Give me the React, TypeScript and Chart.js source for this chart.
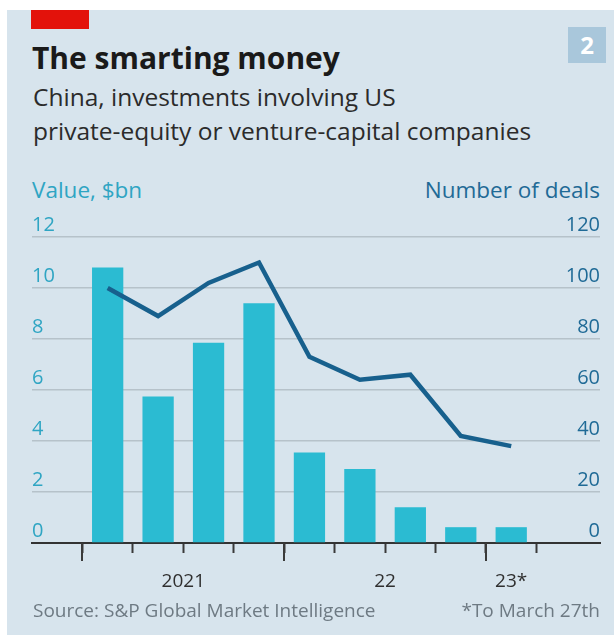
import React, { useEffect, useRef } from "react";
import { Chart, registerables } from "chart.js";

Chart.register(...registerables);

// ---- Data ----
const quarters = ["Q1 2021", "Q2 2021", "Q3 2021", "Q4 2021", "Q1 2022", "Q2 2022", "Q3 2022", "Q4 2022", "Q1 2023"];
const valueBn = [10.8, 5.75, 7.85, 9.4, 3.55, 2.9, 1.4, 0.62, 0.62];
const numberOfDeals = [100, 89, 102, 110, 73, 64, 66, 42, 38];
const yearLabels = ["2021", "22", "23*"];
const yearQuarterCounts = [4, 4, 1];
const valueTicks = [0, 2, 4, 6, 8, 10, 12];
const dealTicks = [0, 20, 40, 60, 80, 100, 120];

const FONT = "'Open Sans', 'Noto Sans', sans-serif";

// derived positions on the index axis
const yearBoundaries: number[] = [];
const yearCenters: number[] = [];
{
  let start = -0.5;
  yearQuarterCounts.forEach((c) => {
    yearBoundaries.push(start);
    yearCenters.push(start + c / 2);
    start += c;
  });
}
const quarterBoundaries = quarters.map((_, i) => i - 0.5).concat([quarters.length - 0.5]);

const X_MIN = -1.5;
const X_MAX = 9.76;

const longTicks = {
  id: "longTicks",
  afterDraw(chart: any) {
    const xs = chart.scales.x;
    const y0 = chart.chartArea.bottom;
    const ctx = chart.ctx;
    ctx.save();
    ctx.strokeStyle = "#3a3a3a";
    ctx.lineWidth = 2;
    yearBoundaries.forEach((b) => {
      const px = Math.round(xs.getPixelForValue(b));
      ctx.beginPath();
      ctx.moveTo(px, y0);
      ctx.lineTo(px, y0 + 18);
      ctx.stroke();
    });
    ctx.restore();
  },
};

export default function App() {
  const ref = useRef<HTMLCanvasElement>(null);

  useEffect(() => {
    if (!ref.current) return;
    const chart = new Chart(ref.current, {
      type: "bar",
      data: {
        datasets: [
          {
            type: "line",
            label: "Number of deals",
            data: numberOfDeals.map((v, i) => ({ x: i, y: v })),
            xAxisID: "x",
            yAxisID: "y1",
            borderColor: "#17608d",
            borderWidth: 4.5,
            pointRadius: 0,
            tension: 0,
            order: 1,
          } as any,
          {
            type: "bar",
            label: "Value, $bn",
            data: valueBn.map((v, i) => ({ x: i, y: v })),
            xAxisID: "x",
            yAxisID: "y",
            backgroundColor: "#2bbbd2",
            barPercentage: 0.62,
            categoryPercentage: 1,
            order: 2,
          } as any,
        ],
      },
      options: {
        responsive: false,
        animation: false,
        devicePixelRatio: 1,
        layout: { padding: { left: 32, right: 14, top: 37, bottom: 0 } },
        plugins: { legend: { display: false }, tooltip: { enabled: false } },
        scales: {
          x: {
            type: "linear",
            position: "bottom",
            weight: 0,
            min: X_MIN,
            max: X_MAX,
            offset: false,
            afterBuildTicks: (s: any) => {
              s.ticks = quarterBoundaries.map((v) => ({ value: v }));
            },
            afterFit: (s: any) => {
              s.height = 10;
            },
            ticks: { display: false },
            grid: {
              display: true,
              drawOnChartArea: false,
              drawTicks: true,
              tickLength: 10,
              tickColor: "#3a3a3a",
              tickWidth: 2,
              offset: false,
            },
            border: { display: true, color: "#333333", width: 2 },
          } as any,
          xYear: {
            type: "linear",
            position: "bottom",
            weight: 1,
            min: X_MIN,
            max: X_MAX,
            offset: false,
            afterBuildTicks: (s: any) => {
              s.ticks = yearCenters.map((v) => ({ value: v }));
            },
            afterFit: (s: any) => {
              s.height = 47;
            },
            ticks: {
              autoSkip: false,
              maxRotation: 0,
              padding: 9,
              color: "#2f2f2f",
              font: { family: FONT, size: 19 },
              callback: (_v: any, i: number) => yearLabels[i],
            },
            grid: { display: false },
            border: { display: false },
          } as any,
          y: {
            type: "linear",
            position: "left",
            min: 0,
            max: 12,
            afterBuildTicks: (s: any) => {
              s.ticks = valueTicks.map((v) => ({ value: v }));
            },
            ticks: {
              mirror: true,
              padding: 0,
              labelOffset: -12,
              color: "#2fa5c3",
              font: { family: FONT, size: 20 },
            },
            grid: { color: "#b6c2ca", lineWidth: 1.5, drawTicks: false },
            border: { display: false },
          } as any,
          y1: {
            type: "linear",
            position: "right",
            min: 0,
            max: 120,
            afterBuildTicks: (s: any) => {
              s.ticks = dealTicks.map((v) => ({ value: v }));
            },
            ticks: {
              mirror: true,
              padding: 0,
              labelOffset: -12,
              color: "#1f6a96",
              font: { family: FONT, size: 20 },
            },
            grid: { display: false, drawTicks: false },
            border: { display: false },
          } as any,
        },
      },
      plugins: [longTicks],
    });
    return () => chart.destroy();
  }, []);

  const abs = (s: React.CSSProperties): React.CSSProperties => ({ position: "absolute", margin: 0, whiteSpace: "nowrap", fontFamily: FONT, ...s });

  return (
    <div style={{ position: "absolute", left: 0, top: 0, width: 614, height: 638, background: "#ffffff", overflow: "hidden" }}>
      <div style={abs({ left: 7, top: 10, width: 607, height: 625, background: "#d7e4ed" })} />
      <div style={abs({ left: 31, top: 10, width: 58, height: 19, background: "#e3120b" })} />
      <div style={abs({ left: 568, top: 27, width: 38, height: 36, background: "#a9c7db", color: "#ffffff", fontWeight: 700, fontSize: 24, lineHeight: "36px", textAlign: "center" })}>2</div>
      <div style={abs({ left: 32, top: 39, fontSize: 30, fontWeight: 700, lineHeight: "38px", color: "#1a1a1a" })}>The smarting money</div>
      <div style={abs({ left: 33, top: 80, fontSize: 24.5, lineHeight: "34px", color: "#2b2b2b" })}>
        China, investments involving US
        <br />
        private-equity or venture-capital companies
      </div>
      <div style={abs({ left: 32, top: 177, fontSize: 22.5, lineHeight: "26px", color: "#2fa5c3" })}>Value, $bn</div>
      <div style={abs({ right: 14, top: 177, fontSize: 22.5, lineHeight: "26px", color: "#1f6a96" })}>Number of deals</div>
      <canvas ref={ref} width={614} height={400} style={{ position: "absolute", left: 0, top: 200, width: 614, height: 400 }} />
      <div style={abs({ left: 33, top: 598, fontSize: 19, lineHeight: "24px", color: "#6e7a83" })}>Source: S&amp;P Global Market Intelligence</div>
      <div style={abs({ right: 14, top: 598, fontSize: 19, lineHeight: "24px", color: "#6e7a83" })}>*To March 27th</div>
    </div>
  );
}
